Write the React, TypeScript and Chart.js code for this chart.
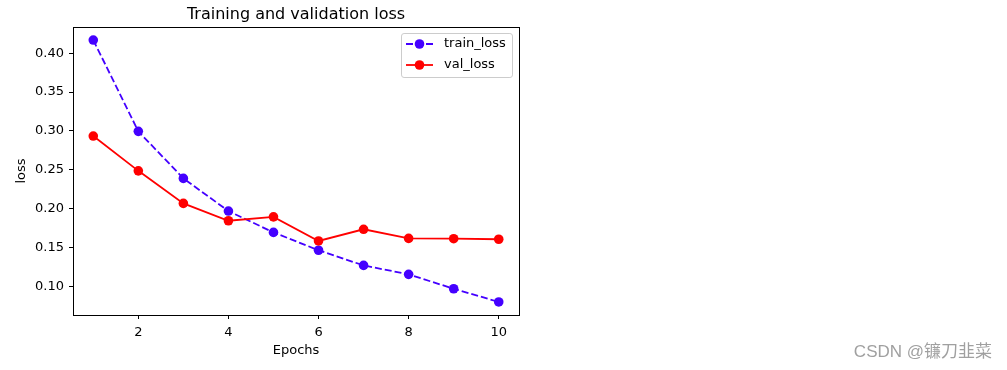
import React, { useEffect, useRef } from "react";
import { Chart, registerables } from "chart.js";

Chart.register(...registerables);

// ---- data ----
const epochs = [1, 2, 3, 4, 5, 6, 7, 8, 9, 10];
const trainLoss = [0.417, 0.2995, 0.239, 0.197, 0.1695, 0.1465, 0.127, 0.1155, 0.097, 0.080];
const valLoss = [0.2935, 0.2487, 0.2068, 0.1845, 0.1895, 0.1585, 0.1735, 0.1618, 0.1614, 0.1607];
const xTicks = [2, 4, 6, 8, 10];
const yTicks = [0.1, 0.15, 0.2, 0.25, 0.3, 0.35, 0.4];
const xLimits = [0.55, 10.45];
const yLimits = [0.0632, 0.4338];
const seriesLabels = ["train_loss", "val_loss"];
const titleText = "Training and validation loss";
const xLabel = "Epochs";
const yLabel = "loss";
const watermarkText = "CSDN @镰刀韭菜";

// ---- styles ----
const FONT = '"DejaVu Sans", sans-serif';
const BLUE = "#4400ff";
const RED = "#ff0000";
const LW = 1.8;
const PR = 4.8;

const decorPlugin = {
  id: "decor",
  afterDraw(chart: any) {
    const { ctx, chartArea: a } = chart;
    ctx.save();
    // axes frame
    ctx.strokeStyle = "#000";
    ctx.lineWidth = 1;
    const l = Math.round(a.left) + 0.5;
    const t = Math.round(a.top) + 0.5;
    const r = Math.round(a.right) + 0.5;
    const b = Math.round(a.bottom) + 0.5;
    ctx.strokeRect(l, t, r - l, b - t);

    // title
    ctx.fillStyle = "#000";
    ctx.font = `16px ${FONT}`;
    ctx.textAlign = "center";
    ctx.textBaseline = "alphabetic";
    ctx.fillText(titleText, (a.left + a.right) / 2, 19);

    // legend
    const bw = 111;
    const bh = 44;
    const bx = a.right - 6.5 - bw;
    const by = a.top + 6.5;
    const rad = 2.6;
    ctx.beginPath();
    ctx.moveTo(bx + rad, by);
    ctx.lineTo(bx + bw - rad, by);
    ctx.arcTo(bx + bw, by, bx + bw, by + rad, rad);
    ctx.lineTo(bx + bw, by + bh - rad);
    ctx.arcTo(bx + bw, by + bh, bx + bw - rad, by + bh, rad);
    ctx.lineTo(bx + rad, by + bh);
    ctx.arcTo(bx, by + bh, bx, by + bh - rad, rad);
    ctx.lineTo(bx, by + rad);
    ctx.arcTo(bx, by, bx + rad, by, rad);
    ctx.closePath();
    ctx.fillStyle = "rgba(255,255,255,0.8)";
    ctx.fill();
    ctx.strokeStyle = "#cccccc";
    ctx.lineWidth = 1;
    ctx.stroke();

    const colors = [BLUE, RED];
    const dashes = [[7, 3], []];
    const rows = [by + 10.5, by + 31.5];
    for (let i = 0; i < 2; i++) {
      const y = rows[i];
      const hx0 = bx + 4.5;
      const hx1 = hx0 + 27;
      ctx.beginPath();
      ctx.setLineDash(dashes[i]);
      ctx.strokeStyle = colors[i];
      ctx.lineWidth = LW;
      ctx.moveTo(hx0, y);
      ctx.lineTo(hx1, y);
      ctx.stroke();
      ctx.setLineDash([]);
      ctx.beginPath();
      ctx.fillStyle = colors[i];
      ctx.arc((hx0 + hx1) / 2, y, PR, 0, Math.PI * 2);
      ctx.fill();
      ctx.fillStyle = "#000";
      ctx.font = `13px ${FONT}`;
      ctx.textAlign = "left";
      ctx.textBaseline = "middle";
      ctx.fillText(seriesLabels[i], hx1 + 11, y);
    }

    // watermark
    ctx.font = `17px "Liberation Sans", "Noto Sans CJK SC", sans-serif`;
    ctx.fillStyle = "#a0a0a0";
    ctx.textAlign = "right";
    ctx.textBaseline = "middle";
    ctx.fillText(watermarkText, 992, 352);
    ctx.restore();
  },
};

export default function App() {
  const ref = useRef<HTMLCanvasElement | null>(null);

  useEffect(() => {
    if (!ref.current) return;
    const chart = new Chart(ref.current, {
      type: "line",
      data: {
        datasets: [
          {
            label: seriesLabels[0],
            data: epochs.map((e, i) => ({ x: e, y: trainLoss[i] })),
            borderColor: BLUE,
            backgroundColor: BLUE,
            borderWidth: LW,
            borderDash: [7, 3],
            pointRadius: PR,
            pointBorderWidth: 0,
            pointBackgroundColor: BLUE,
            tension: 0,
            order: 1,
          },
          {
            label: seriesLabels[1],
            data: epochs.map((e, i) => ({ x: e, y: valLoss[i] })),
            borderColor: RED,
            backgroundColor: RED,
            borderWidth: LW,
            pointRadius: PR,
            pointBorderWidth: 0,
            pointBackgroundColor: RED,
            tension: 0,
            order: 0,
          },
        ],
      },
      options: {
        animation: false,
        responsive: false,
        devicePixelRatio: 1,
        layout: { padding: { top: 27, right: 488, left: 0, bottom: 0 } },
        plugins: {
          legend: { display: false },
          title: { display: false },
          tooltip: { enabled: false },
        },
        scales: {
          x: {
            type: "linear",
            min: xLimits[0],
            max: xLimits[1],
            afterBuildTicks: (scale: any) => {
              scale.ticks = xTicks.map((v) => ({ value: v }));
            },
            afterFit: (scale: any) => {
              scale.height = 55;
            },
            grid: { drawOnChartArea: false, drawTicks: true, tickLength: 4, color: "#000" },
            border: { display: false },
            ticks: {
              color: "#000",
              font: { family: FONT, size: 13 },
              padding: 6,
              maxRotation: 0,
              callback: (v: any) => String(v),
            },
            title: {
              display: true,
              text: xLabel,
              color: "#000",
              font: { family: FONT, size: 13 },
              padding: { top: 0, bottom: 12 },
            },
          },
          y: {
            type: "linear",
            min: yLimits[0],
            max: yLimits[1],
            afterBuildTicks: (scale: any) => {
              scale.ticks = yTicks.map((v) => ({ value: v }));
            },
            afterFit: (scale: any) => {
              scale.width = 73;
            },
            grid: { drawOnChartArea: false, drawTicks: true, tickLength: 4, color: "#000" },
            border: { display: false },
            ticks: {
              color: "#000",
              font: { family: FONT, size: 13 },
              padding: 5,
              callback: (v: any) => Number(v).toFixed(2),
            },
            title: {
              display: true,
              text: yLabel,
              color: "#000",
              font: { family: FONT, size: 13 },
              padding: { top: 14, bottom: 0 },
            },
          },
        },
      },
      plugins: [decorPlugin],
    });
    return () => chart.destroy();
  }, []);

  return (
    <div style={{ position: "fixed", left: 0, top: 0, width: 1007, height: 370, background: "#fff" }}>
      <canvas ref={ref} width={1007} height={370} style={{ display: "block", width: 1007, height: 370 }} />
    </div>
  );
}
